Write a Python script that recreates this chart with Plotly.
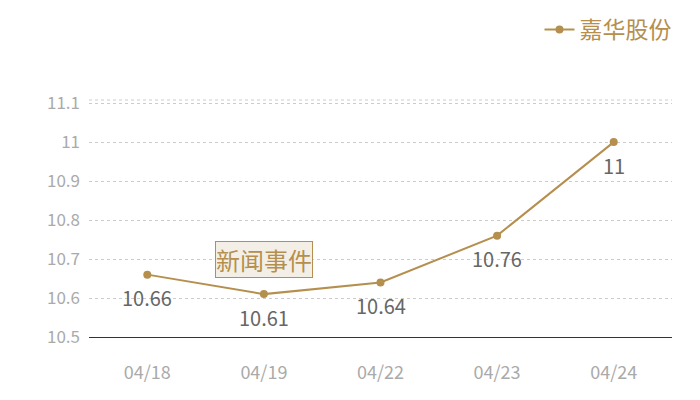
import plotly.graph_objects as go

# 嘉华股份 收盘价
dates = ["04/18", "04/19", "04/22", "04/23", "04/24"]
prices = [10.66, 10.61, 10.64, 10.76, 11]
label_text = ["10.66", "10.61", "10.64", "10.76", "11"]
y_ticks = [10.5, 10.6, 10.7, 10.8, 10.9, 11, 11.1]

gold = "#b58f4e"
font_cn = "Noto Sans CJK SC, Noto Sans, sans-serif"

fig = go.Figure()

fig.add_trace(go.Scatter(
    x=dates,
    y=prices,
    mode="lines+markers",
    name="嘉华股份",
    line=dict(color=gold, width=2),
    marker=dict(color=gold, size=8),
))

# 数值标签
for d, p, t in zip(dates, prices, label_text):
    fig.add_annotation(
        x=d, y=p, text=t, showarrow=False,
        yshift=-23,
        font=dict(color="#666666", size=20, family=font_cn),
    )

# 新闻事件 标注
fig.add_annotation(
    x="04/19", y=10.7,
    text="新闻事件",
    showarrow=False,
    font=dict(color=gold, size=24, family=font_cn),
    bgcolor="#f4efe6",
    bordercolor=gold,
    borderwidth=1,
    borderpad=0,
)

# 顶部虚线
fig.add_shape(type="line", xref="paper", yref="paper", x0=0, x1=1, y0=1, y1=1,
              line=dict(color="#cccccc", width=1, dash="dot"))

fig.update_layout(
    width=700, height=400,
    margin=dict(l=81, r=36, t=92, b=71, autoexpand=False),
    plot_bgcolor="white",
    paper_bgcolor="white",
    font=dict(family=font_cn),
    showlegend=True,
    legend=dict(
        orientation="h",
        x=0.955, xanchor="right", xref="container",
        y=1.0, yanchor="top", yref="container",
        font=dict(color=gold, size=23, family=font_cn),
        itemwidth=30,
    ),
    xaxis=dict(
        type="category",
        range=[-0.5, 4.5],
        showgrid=False,
        showline=True,
        linecolor="#333333",
        linewidth=1,
        ticks="",
        ticklabelstandoff=19,
        tickfont=dict(color="#aaaaaa", size=18),
        zeroline=False,
        automargin=False,
    ),
    yaxis=dict(
        range=[10.5, 11.108],
        tickvals=y_ticks,
        ticktext=[str(v) for v in y_ticks],
        showgrid=True,
        gridcolor="#cccccc",
        griddash="dot",
        gridwidth=1,
        tickfont=dict(color="#aaaaaa", size=17),
        zeroline=False,
        ticks="",
        ticklabelstandoff=8,
        automargin=False,
    ),
)

fig.write_html("out.html")
